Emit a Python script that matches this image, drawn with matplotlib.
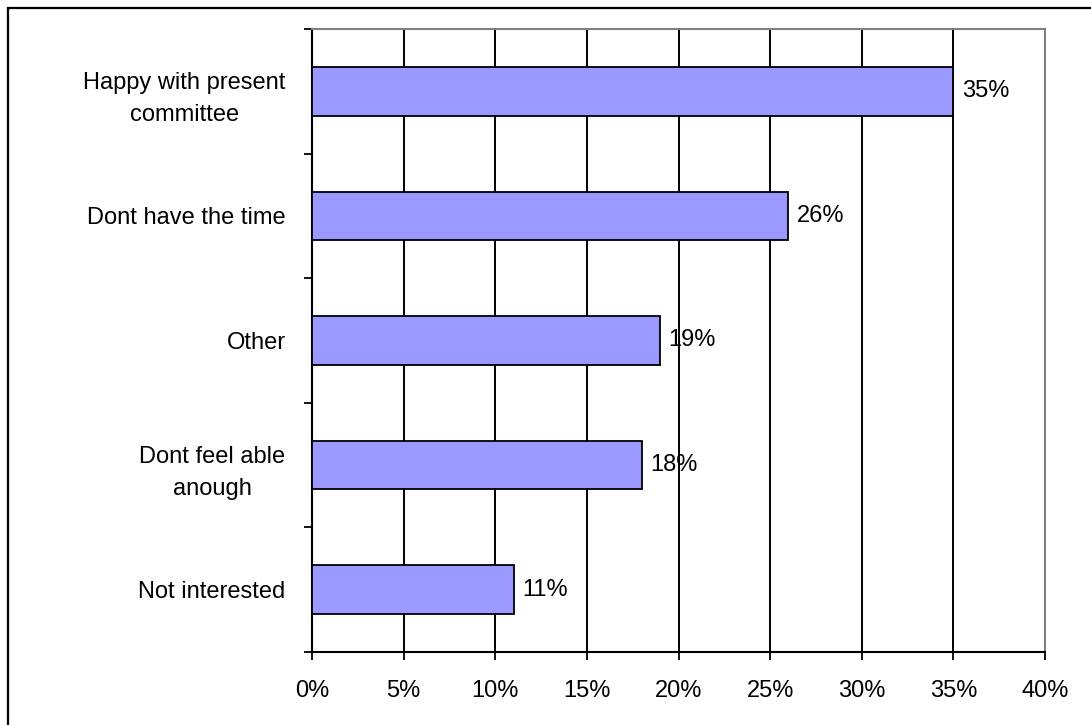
import matplotlib
matplotlib.use("Agg")
import matplotlib.pyplot as plt
from matplotlib.patches import Rectangle
from matplotlib.ticker import FixedLocator, PercentFormatter

categories = ["Happy with present\ncommittee", "Dont have the time", "Other",
              "Dont feel able\nanough", "Not interested"]
values = [35, 26, 19, 18, 11]
x_ticks = [0, 5, 10, 15, 20, 25, 30, 35, 40]

plt.rcParams["font.family"] = ["Liberation Sans", "DejaVu Sans"]
FS = 17

W, H = 1091, 725
fig = plt.figure(figsize=(W / 100, H / 100), dpi=100)
ax = fig.add_axes([312 / W, 1 - 652 / H, (1045 - 312) / W, (652 - 29) / H])

# outer frame around the chart
fig.patches.append(Rectangle((8 / W, -0.1), 1.2, 1.1 - 8 / H,
                             transform=fig.transFigure, fill=False,
                             edgecolor="black", linewidth=1.6, zorder=0))

ypos = list(range(len(categories)))
ax.barh(ypos, values, height=0.39, color="#9999FF", edgecolor="black",
        linewidth=1.3, zorder=3)
for y, v in zip(ypos, values):
    ax.annotate(f"{v}%", (v, y), xytext=(6, 0), textcoords="offset points",
                va="center", ha="left", fontsize=FS, zorder=4)

ax.set_xlim(0, 40)
ax.set_ylim(len(categories) - 0.5, -0.5)
ax.xaxis.set_major_locator(FixedLocator(x_ticks))
ax.xaxis.set_major_formatter(PercentFormatter(decimals=0))
ax.grid(axis="x", color="black", linewidth=1.4, zorder=1)
ax.set_axisbelow(True)

ax.set_yticks(ypos)
ax.set_yticklabels(categories)
ax.yaxis.set_minor_locator(FixedLocator([i - 0.5 for i in range(len(categories) + 1)]))
ax.tick_params(axis="y", which="major", length=0, pad=19, labelsize=FS)
ax.tick_params(axis="y", which="minor", length=6, width=1.3, direction="out")
ax.tick_params(axis="x", which="major", length=6, width=1.3, pad=14, labelsize=FS)
for lab in ax.get_yticklabels():
    lab.set_multialignment("center")
    lab.set_linespacing(1.6)

for s in ("left", "bottom"):
    ax.spines[s].set_color("black")
    ax.spines[s].set_linewidth(1.5)
for s in ("top", "right"):
    ax.spines[s].set_color("#808080")
    ax.spines[s].set_linewidth(1.5)

fig.savefig("out.png", dpi=100)
